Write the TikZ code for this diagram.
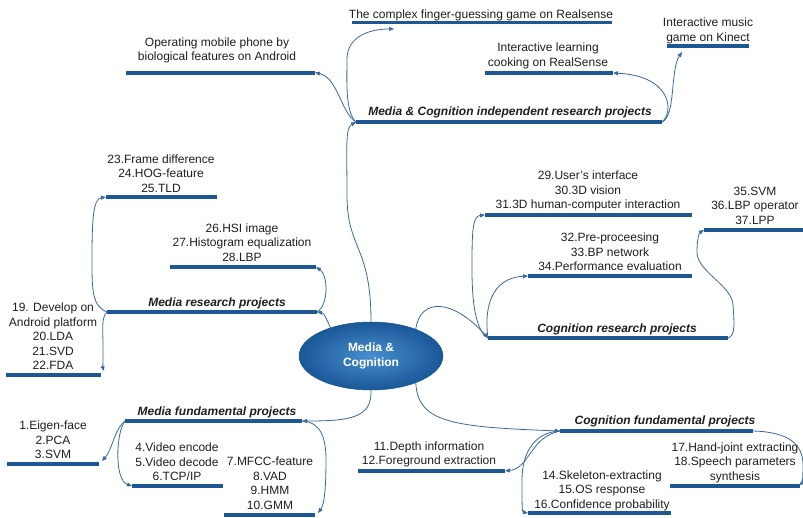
\documentclass[tikz,border=0pt]{standalone}
\usepackage{fontspec}
\setmainfont{Liberation Sans}
\usetikzlibrary{arrows.meta,shapes.geometric}
\definecolor{barblue}{RGB}{30,88,148}
\definecolor{linkblue}{RGB}{58,104,156}
\definecolor{txt}{RGB}{30,30,30}
\definecolor{ellin}{RGB}{72,142,206}
\definecolor{ellout}{RGB}{26,88,152}
\begin{document}
\begin{tikzpicture}[x=1pt,y=-1pt,
  bar/.style={line width=4pt,draw=barblue},
  link/.style={draw=linkblue,line width=0.8pt,-{Triangle[length=5pt,width=4pt]}},
  lbl/.style={font=\fontsize{12}{14.5}\selectfont,align=center,inner sep=0pt,text=txt},
  head/.style={font=\fontsize{12}{14.5}\selectfont\bfseries\itshape,align=center,inner sep=0pt,text=txt},
]
\useasboundingbox (0,0) rectangle (803,517);

% ---- bar end coordinates
\coordinate (fingL) at (352,22);  \coordinate (fingR) at (612,22);
\coordinate (operL) at (126,72.5); \coordinate (operR) at (315,72.5);
\coordinate (cookL) at (485,73);  \coordinate (cookR) at (613,73);
\coordinate (kinL) at (667,46);   \coordinate (kinR) at (749,46);
\coordinate (indL) at (356,122);  \coordinate (indR) at (662,122);
\coordinate (tfL) at (106,197);   \coordinate (tfR) at (217,197);
\coordinate (tsL) at (170,267);   \coordinate (tsR) at (316,267);
\coordinate (mrL) at (107,312);   \coordinate (mrR) at (317,312);
\coordinate (nnL) at (6,375);     \coordinate (nnR) at (101,375);
\coordinate (uiL) at (485,215);   \coordinate (uiR) at (692,215);
\coordinate (ppL) at (528,276);   \coordinate (ppR) at (692,276);
\coordinate (svL) at (704,230);   \coordinate (svR) at (803,230);
\coordinate (crL) at (488,338);   \coordinate (crR) at (728,338);
\coordinate (mfL) at (125,421);   \coordinate (mfR) at (302,421);
\coordinate (egL) at (7,464);     \coordinate (egR) at (99,464);
\coordinate (veL) at (132,486);   \coordinate (veR) at (223,486);
\coordinate (mcL) at (224,515);   \coordinate (mcR) at (315,515);
\coordinate (dpL) at (358,471);   \coordinate (dpR) at (505,471);
\coordinate (cfL) at (560,431);   \coordinate (cfR) at (753,431);
\coordinate (skL) at (528,513);   \coordinate (skR) at (671,513);
\coordinate (hjL) at (670,486);   \coordinate (hjR) at (800,486);
% free ends of connectors
\coordinate (fingIn) at (394,29);
\coordinate (kinIn) at (682,52);
\coordinate (nnIn) at (104,371);
\coordinate (egIn) at (102,461);
\coordinate (mcIn) at (318,513);
\coordinate (hjIn) at (799,485);

% ---- bars
\draw[bar,line width=3pt] (fingL) -- (fingR);
\foreach \a/\b in {operL/operR,cookL/cookR,kinL/kinR,indL/indR,tfL/tfR,tsL/tsR,mrL/mrR,nnL/nnR,uiL/uiR,ppL/ppR,svL/svR,crL/crR,mfL/mfR,egL/egR,veL/veR,mcL/mcR,dpL/dpR,cfL/cfR,skL/skR,hjL/hjR}
  \draw[bar] (\a) -- (\b);

% ---- centre
\node[ellipse,minimum width=144pt,minimum height=68pt,inner color=ellin,outer color=ellout,
  draw=ellout,line width=0.5pt,text=white,font=\fontsize{12}{14.5}\selectfont\bfseries,align=center]
  (mc) at (371,356) {Media \&\\Cognition};

% ---- labels
\node[lbl] (tfinger) at (481,15) {The complex finger-guessing game on Realsense};
\node[lbl] (toper) at (217,50.5) {Operating mobile phone by\\biological features on Android};
\node[lbl] (tcook) at (548,56) {Interactive learning\\cooking on RealSense};
\node[lbl] (tkin) at (708,31) {Interactive music\\game on Kinect};
\node[head] (tind) at (510,112) {Media \& Cognition independent research projects};
\node[lbl] (ttf) at (161,173.5) {23.Frame difference\\24.HOG-feature\\25.TLD};
\node[lbl] (tts) at (242,242.5) {26.HSI image\\27.Histogram equalization\\28.LBP};
\node[head] (tmr) at (217,303) {Media research projects};
\node[lbl] (tnn) at (53,336.5) {19. Develop on\\Android platform\\20.LDA\\21.SVD\\22.FDA};
\node[lbl] (tui) at (588,191) {29.User's interface\\30.3D vision\\31.3D human-computer interaction};
\node[lbl] (tpp) at (610,252) {32.Pre-proceesing\\33.BP network\\34.Performance evaluation};
\node[lbl] (tsv) at (755,205.5) {35.SVM\\36.LBP operator\\37.LPP};
\node[head] (tcr) at (617,329) {Cognition research projects};
\node[head] (tmf) at (217,412) {Media fundamental projects};
\node[lbl] (teg) at (53,440) {1.Eigen-face\\2.PCA\\3.SVM};
\node[lbl] (tve) at (177,462) {4.Video encode\\5.Video decode\\6.TCP/IP};
\node[lbl] (tmc) at (270,483) {7.MFCC-feature\\8.VAD\\9.HMM\\10.GMM};
\node[lbl] (tdp) at (429,454.5) {11.Depth information\\12.Foreground extraction};
\node[head] (tcf) at (665,421) {Cognition fundamental projects};
\node[lbl] (tsk) at (602,490.5) {14.Skeleton-extracting\\15.OS response\\16.Confidence probability};
\node[lbl] (thj) at (735,462.5) {17.Hand-joint extracting\\18.Speech parameters\\synthesis};

% ---- connectors
% centre to hubs
\draw[link] (mc.north) .. controls (371,245) and (347,250) .. (347,195) .. controls (347,150) and (345,128) .. (indL);
\draw[link] (mc.145) .. controls (326,318) and (324,313) .. (mrR);
\draw[link] (mc.south) .. controls (372,418) and (350,421) .. (mfR);
\draw[link] (mc.31) .. controls (420,298) and (452,298) .. (crL);
\draw[link] (mc.-31) .. controls (418,422) and (450,427) .. (cfL);
% independent projects
\draw[link] (indL) .. controls (341,113) and (338,78) .. (operR);
\draw[link] (indL) .. controls (345,112) and (347,80) .. (347,58) .. controls (348,36) and (370,29) .. (fingIn);
\draw[link] (indR) .. controls (674,112) and (672,76) .. (cookR);
\draw[link] (indR) .. controls (676,116) and (670,70) .. (kinIn);
% media research
\draw[link] (mrR) .. controls (329,305) and (328,275) .. (tsR);
\draw[link] (mrL) .. controls (92,306) and (92,290) .. (92,260) .. controls (92,220) and (93,199) .. (tfL);
\draw[link] (mrL) .. controls (101,318) and (103,330) .. (103,345) .. controls (103,360) and (103,368) .. (nnIn);
% cognition research
\draw[link] (crL) .. controls (475,330) and (472,300) .. (472,270) .. controls (472,235) and (472,216) .. (uiL);
\draw[link] (crL) .. controls (484,310) and (490,278) .. (ppL);
\draw[link] (crR) .. controls (736,336) and (734,320) .. (733,305) .. controls (732,285) and (697,272) .. (697,252) .. controls (697,240) and (699,233) .. (svL);
% media fundamental
\draw[link] (mfL) .. controls (115,428) and (112,450) .. (egIn);
\draw[link] (mfL) .. controls (116,432) and (114,480) .. (veL);
\draw[link] (mfR) .. controls (322,422) and (326,440) .. (326,460) .. controls (326,490) and (324,505) .. (mcIn);
% cognition fundamental
\draw[link] (cfL) .. controls (530,437) and (530,468) .. (dpR);
\draw[link] (cfL) .. controls (535,432) and (522,452) .. (522,480) .. controls (522,505) and (522,512) .. (skL);
\draw[link] (cfR) .. controls (790,432) and (803,445) .. (803,465) .. controls (803,478) and (802,483) .. (hjIn);
\end{tikzpicture}
\end{document}
